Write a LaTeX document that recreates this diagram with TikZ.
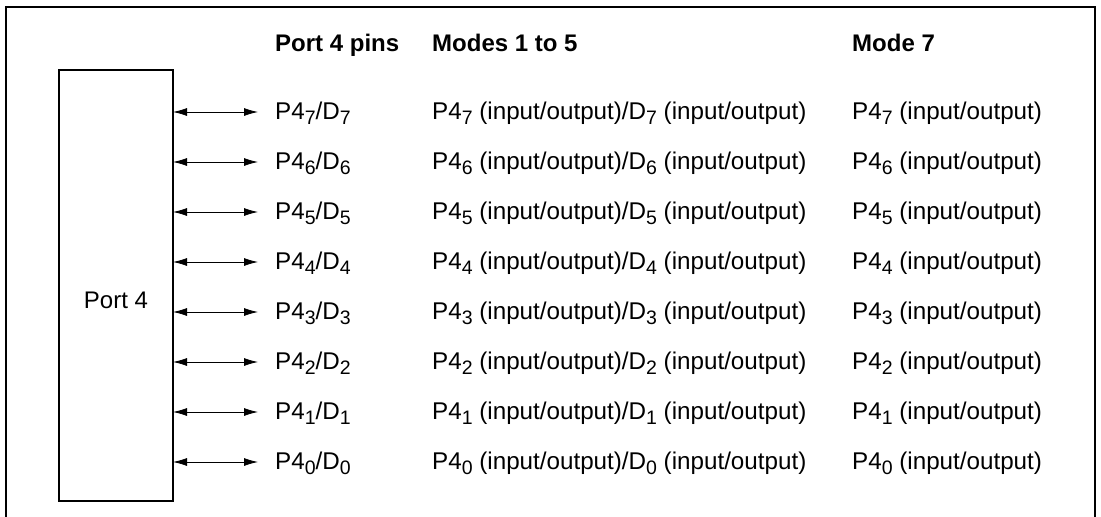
\documentclass[tikz,border=0pt]{standalone}
\usepackage{fontspec}
\setmainfont{Liberation Sans}
\usetikzlibrary{arrows.meta}
\newcommand{\pinsub}[1]{\raisebox{-5.5pt}{\fontsize{19.5}{20}\selectfont #1}}
\begin{document}
\begin{tikzpicture}[x=1pt,y=-1pt,
  txt/.style={anchor=base west,inner sep=0pt,font=\fontsize{24.2}{28}\selectfont},
  hdr/.style={anchor=base west,inner sep=0pt,font=\fontsize{24}{28}\selectfont\bfseries},
  bidir/.style={{Latex[length=14pt,width=8pt]}-{Latex[length=14pt,width=8pt]},line width=0.8pt}]
\useasboundingbox (0,0) rectangle (1101,517);
\draw[line width=2.5pt] (6,530) -- (6,7) -- (1095,7) -- (1095,530);
\node[draw,line width=1.2pt,minimum width=114pt,minimum height=431pt,inner sep=0pt] (port) at (116,285.5) {};
\node[font=\fontsize{24}{28}\selectfont,inner sep=0pt,anchor=base] (portlbl) at (116,308) {Port 4};
\node[hdr] (h1) at (275,51) {Port 4 pins};
\node[hdr] (h2) at (432,51) {Modes 1 to 5};
\node[hdr] (h3) at (852,51) {Mode 7};
\foreach \i in {7,6,5,4,3,2,1,0}{
  \pgfmathsetmacro{\yy}{112+(7-\i)*50}
  \coordinate (s\i) at (173,\yy);
  \coordinate (e\i) at (258,\yy);
  \draw[bidir] (s\i) -- (e\i);
  \node[txt] (pin\i) at (275,\yy+7) {P4\pinsub{\i}/D\pinsub{\i}};
  \node[txt] (m\i) at (432,\yy+7) {P4\pinsub{\i} (input/output)/D\pinsub{\i} (input/output)};
  \node[txt] (n\i) at (852,\yy+7) {P4\pinsub{\i} (input/output)};
}
\end{tikzpicture}
\end{document}
